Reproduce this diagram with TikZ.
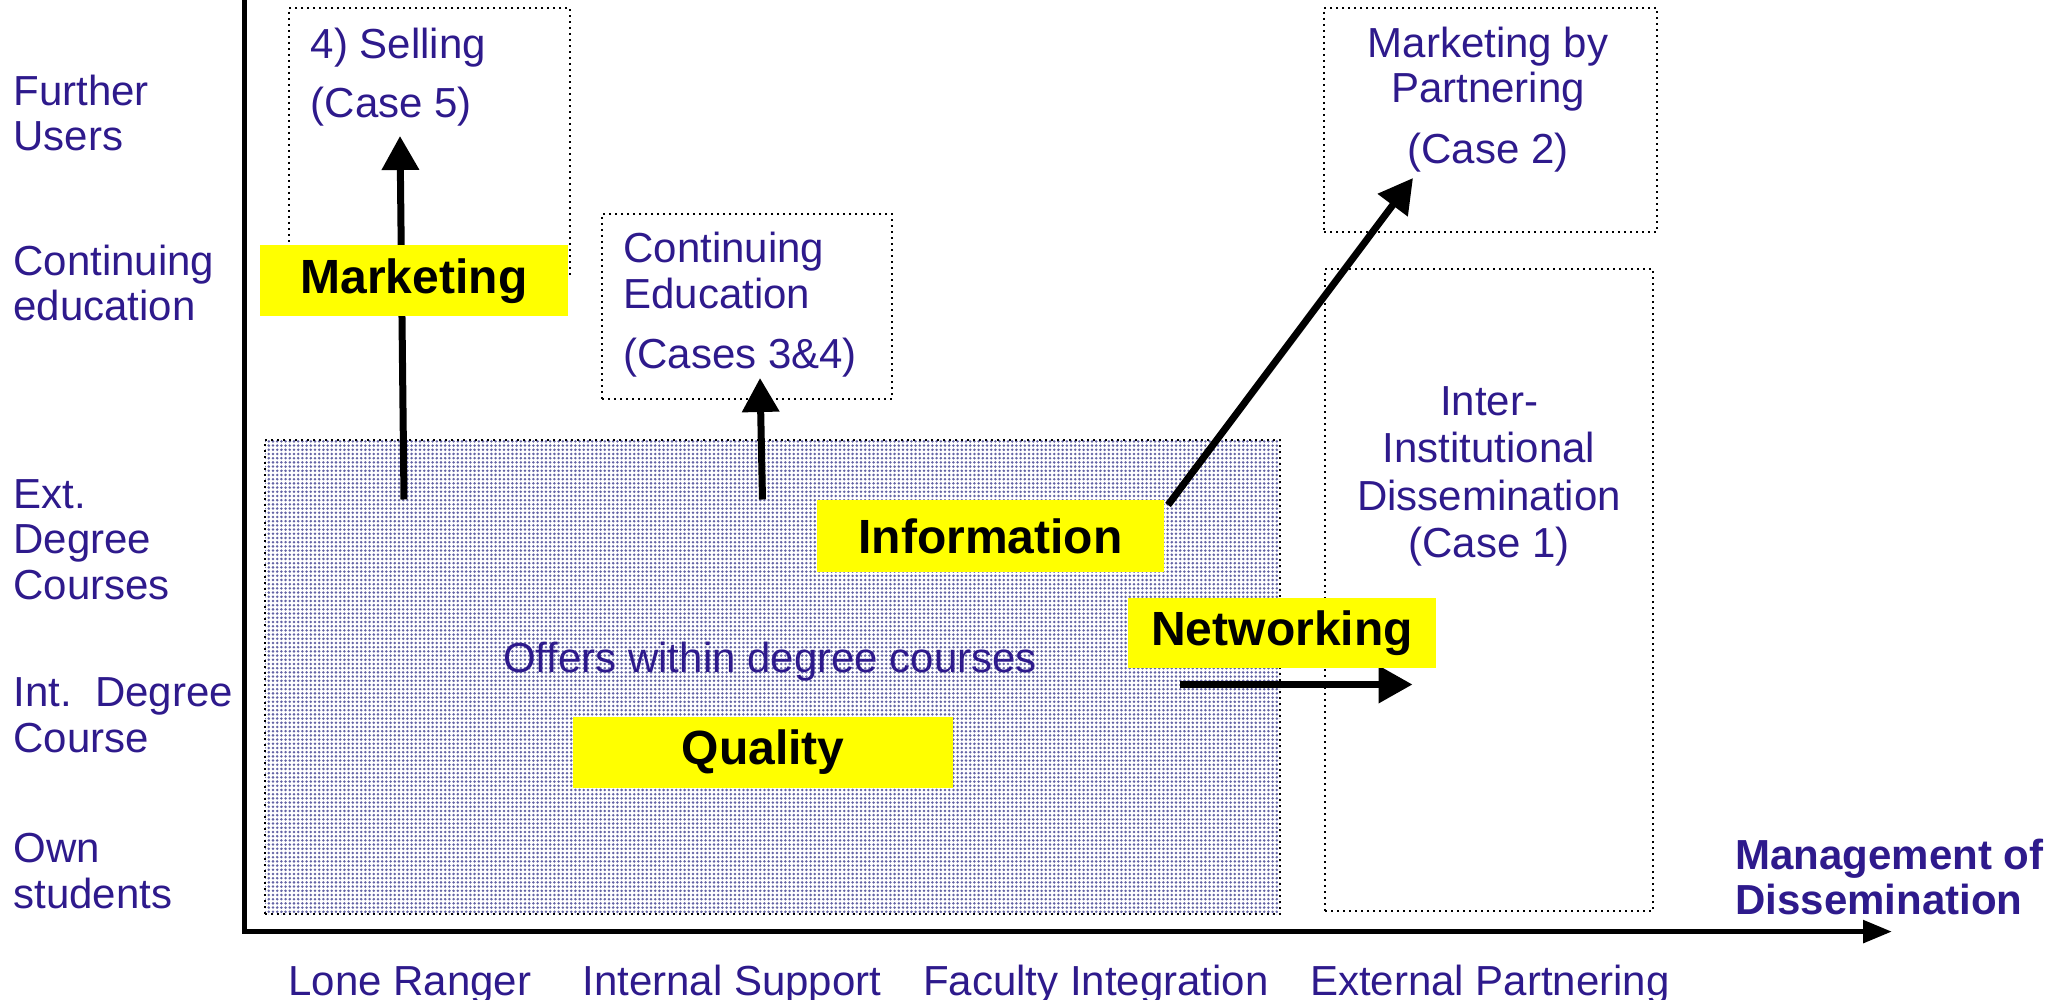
\documentclass[tikz,border=0pt]{standalone}
\usepackage{fontspec}
\setmainfont{Liberation Sans}
\usetikzlibrary{arrows.meta,patterns.meta}
\definecolor{tblue}{RGB}{46,26,140}
\definecolor{dotc}{RGB}{100,100,165}
\definecolor{hly}{RGB}{255,255,0}
\begin{document}
\begin{tikzpicture}[x=0.5pt,y=-0.5pt,
  lbl/.style={font=\fontsize{21}{22.5}\selectfont, text=tblue, inner sep=0pt},
  blbl/.style={lbl, font=\fontsize{21}{22.5}\selectfont\bfseries},
  hl/.style={fill=hly, font=\fontsize{24}{26}\selectfont\bfseries, text=black, inner sep=0pt},
  dbox/.style={draw=black, dotted, line width=1pt, inner sep=0pt},
  bigarrow/.style={line width=3.5pt, -{Triangle[length=17pt,width=18pt]}},
  axisline/.style={line width=2.8pt, line join=miter, -{Triangle[length=14.5pt,width=11pt]}}]
\useasboundingbox (0,0) rectangle (2072,1000);

% shaded region
\node[dbox, pattern={Dots[distance=2.1pt,radius=0.7pt]}, pattern color=dotc,
  minimum width=507.5pt, minimum height=237pt, anchor=north west] (region) at (264,439) {};

% dotted boxes
\node[dbox, minimum width=140.5pt, minimum height=134pt, anchor=north west] (sellbox) at (288,7) {};
\node[dbox, minimum width=145pt, minimum height=92.5pt, anchor=north west] (contbox) at (601,213) {};
\node[dbox, minimum width=166.5pt, minimum height=112pt, anchor=north west] (partbox) at (1323,7) {};
\node[dbox, minimum width=164pt, minimum height=321pt, anchor=north west] (interbox) at (1324,268) {};

% axes
\coordinate (ytop) at (244.5,-6);
\coordinate (orig) at (244.5,931.6);
\coordinate (xend) at (1892,931.6);
\draw[axisline] (ytop) -- (orig) -- (xend);

% arrows
\coordinate (m0) at (404,499.5); \coordinate (m1) at (400,136);
\coordinate (c0) at (762.5,499.5); \coordinate (c1) at (760,378);
\coordinate (i0) at (1168,505); \coordinate (i1) at (1413,178);
\coordinate (n0) at (1180,684.5); \coordinate (n1) at (1412.5,684.5);
\draw[bigarrow] (m0) -- (m1);
\draw[bigarrow] (c0) -- (c1);
\draw[bigarrow] (i0) -- (i1);
\draw[bigarrow] (n0) -- (n1);

% yellow labels
\node[hl, minimum width=154pt, minimum height=35.5pt] (marketing) at (414,281) {Marketing};
\node[hl, minimum width=173.5pt, minimum height=36pt] (information) at (990.5,536) {Information};
\node[hl, minimum width=154pt, minimum height=35pt] (networking) at (1282,633) {Networking};
\node[hl, minimum width=190pt, minimum height=35.5pt] (quality) at (763,752) {Quality};

% y-axis labels
\node[lbl, anchor=base west] (yl1a) at (13,106) {Further};
\node[lbl, anchor=base west] (yl1b) at (13,151) {Users};
\node[lbl, anchor=base west] (yl2a) at (13,276) {Continuing};
\node[lbl, anchor=base west] (yl2b) at (13,321) {education};
\node[lbl, anchor=base west] (yl3a) at (13,508) {Ext.};
\node[lbl, anchor=base west] (yl3b) at (13,553.5) {Degree};
\node[lbl, anchor=base west] (yl3c) at (13,599) {Courses};
\node[lbl, anchor=base west] (yl4a) at (13,706) {Int.\ \ Degree};
\node[lbl, anchor=base west] (yl4b) at (13,752) {Course};
\node[lbl, anchor=base west] (yl5a) at (13,862) {Own};
\node[lbl, anchor=base west] (yl5b) at (13,908) {students};

% x-axis labels
\node[lbl, anchor=base] (xl1) at (410,995) {Lone Ranger};
\node[lbl, anchor=base] (xl2) at (732,995) {Internal Support};
\node[lbl, anchor=base] (xl3) at (1096,995) {Faculty Integration};
\node[lbl, anchor=base] (xl4) at (1490,995) {External Partnering};

% axis title
\node[blbl, anchor=base west] (mt1) at (1735,869) {Management of};
\node[blbl, anchor=base west] (mt2) at (1735,914) {Dissemination};

% box texts
\node[lbl, anchor=base west] (s1) at (310.5,59) {4) Selling};
\node[lbl, anchor=base west] (s2) at (310.5,118) {(Case 5)};
\node[lbl, anchor=base west] (ce1) at (623,262.5) {Continuing};
\node[lbl, anchor=base west] (ce2) at (623,308.5) {Education};
\node[lbl, anchor=base west] (ce3) at (623,368.5) {(Cases 3\&4)};
\node[lbl, anchor=base] (p1) at (1488,57.5) {Marketing by};
\node[lbl, anchor=base] (p2) at (1488,102.5) {Partnering};
\node[lbl, anchor=base] (p3) at (1488,163.5) {(Case 2)};
\node[lbl, anchor=base] (ii1) at (1489,415.5) {Inter-};
\node[lbl, anchor=base] (ii2) at (1489,462.5) {Institutional};
\node[lbl, anchor=base] (ii3) at (1489,510.5) {Dissemination};
\node[lbl, anchor=base] (ii4) at (1489,557.5) {(Case 1)};
\node[lbl, anchor=base] (offers) at (770,672) {Offers within degree courses};
\end{tikzpicture}
\end{document}
